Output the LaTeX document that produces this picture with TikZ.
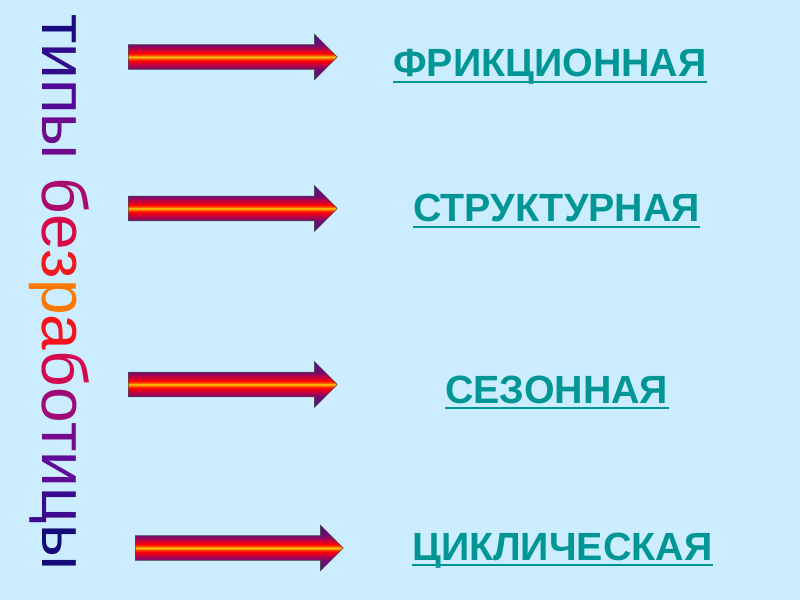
\documentclass[tikz,border=0pt]{standalone}
\usepackage{fontspec}
\setmainfont{Liberation Sans}
\usepackage{tikz}
\usetikzlibrary{shapes.arrows}
\usepackage{xcolor}

\definecolor{bgblue}{RGB}{204,236,255}
\definecolor{labteal}{RGB}{0,150,150}
\definecolor{arrviolet}{RGB}{85,10,150}
\definecolor{arrplum}{RGB}{120,10,110}
\definecolor{arrcrimson}{RGB}{200,0,60}
\definecolor{arrorange}{RGB}{255,100,0}
\definecolor{arryellow}{RGB}{255,210,0}

\pgfdeclareverticalshading{arrowfill}{100bp}{color(0bp)=(arrviolet); color(25bp)=(arrviolet);
  color(37bp)=(arrplum); color(42bp)=(arrcrimson); color(46bp)=(red); color(48.5bp)=(arrorange);
  color(50bp)=(arryellow); color(51.5bp)=(arrorange); color(54bp)=(red); color(58bp)=(arrcrimson);
  color(63bp)=(arrplum); color(75bp)=(arrviolet); color(100bp)=(arrviolet)}

\begin{document}
\begin{tikzpicture}[
  blockarrow/.style={single arrow, shade, shading=arrowfill, draw=black!70, thin,
    inner sep=0pt, text height=0.3cm, text depth=0.3cm,
    single arrow head extend=0.2625cm, single arrow tip angle=90,
    minimum height=5.225cm, anchor=tail},
  kind/.style={font=\fontsize{28}{31}\selectfont\bfseries, text=labteal,
    anchor=base west, inner xsep=0pt},
  uline/.style={labteal, line width=1.4pt},
  title/.style={font=\fontsize{45.5}{50}\selectfont, rotate=-90,
    anchor=base west, inner sep=0pt}
]
\useasboundingbox (0,0) rectangle (20,15);
\fill[bgblue] (0,0) rectangle (20,15);

% Vertical title, coloured letter by letter
\node[title] (types) at (1.05,14.65)
  {\textcolor[RGB]{26,10,128}{т}\textcolor[RGB]{50,10,140}{и}\textcolor[RGB]{80,10,150}{п}\textcolor[RGB]{110,10,140}{ы}
   \textcolor[RGB]{170,10,110}{б}\textcolor[RGB]{215,10,70}{е}\textcolor[RGB]{240,25,30}{з}\textcolor[RGB]{255,120,0}{р}\textcolor[RGB]{245,20,30}{а}\textcolor[RGB]{210,10,80}{б}\textcolor[RGB]{160,10,120}{о}\textcolor[RGB]{120,10,140}{т}\textcolor[RGB]{95,10,150}{и}\textcolor[RGB]{60,10,140}{ц}\textcolor[RGB]{20,10,120}{ы}};

% Block arrows
\node[blockarrow] (arrfric) at (3.2,13.575) {};
\node[blockarrow] (arrstruct) at (3.2,9.7875) {};
\node[blockarrow] (arrseas) at (3.2,5.3875) {};
\node[blockarrow, minimum height=5.2cm] (arrcycl) at (3.375,1.3) {};

% Kinds of unemployment
\node[kind] (fric) at (9.825,13.075) {ФРИКЦИОННАЯ};
\node[kind] (struct) at (10.325,9.45) {СТРУКТУРНАЯ};
\node[kind] (seas) at (11.125,4.925) {СЕЗОННАЯ};
\node[kind] (cycl) at (10.3,1.0) {ЦИКЛИЧЕСКАЯ};

% Underlines
\draw[uline] ([yshift=-0.125cm]fric.base west) -- ([yshift=-0.125cm]fric.base east);
\draw[uline] ([yshift=-0.125cm]struct.base west) -- ([yshift=-0.125cm]struct.base east);
\draw[uline] ([yshift=-0.125cm]seas.base west) -- ([yshift=-0.125cm]seas.base east);
\draw[uline] ([yshift=-0.125cm]cycl.base west) -- ([yshift=-0.125cm]cycl.base east);

\end{tikzpicture}
\end{document}
